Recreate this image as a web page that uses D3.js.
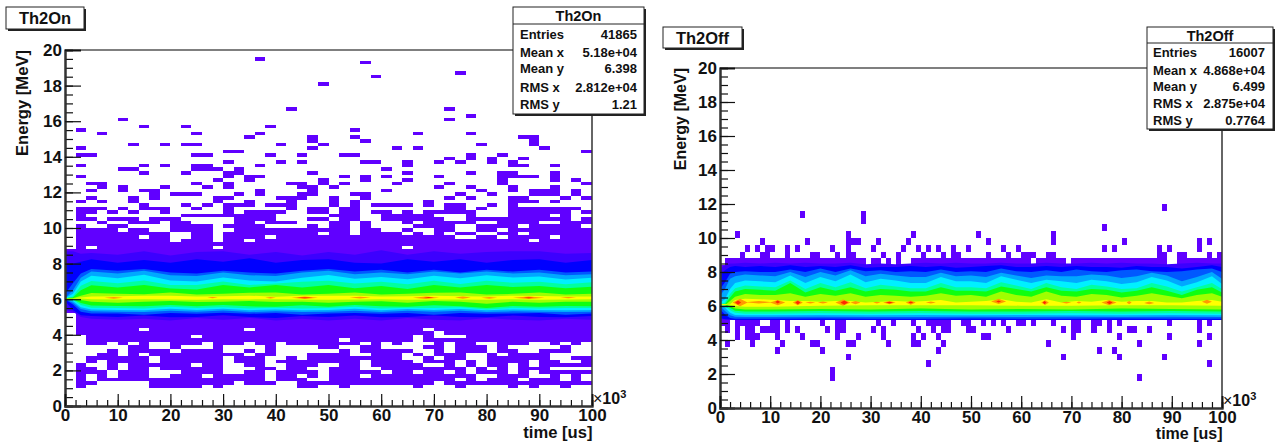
<!DOCTYPE html>
<html>
<head>
<meta charset="utf-8">
<script src="https://cdnjs.cloudflare.com/ajax/libs/d3/7.8.5/d3.min.js"></script>
<style>
body { margin: 0; background: #fff; }
text { font-family: "Liberation Sans", Arial, sans-serif; font-weight: bold; fill: #111; }
</style>
</head>
<body>
<div id="main"></div>
<script>
// ---- Th2On: 50 time bins (2 each), 100 energy bins (0.2 MeV). row 0 is the top one (19.8-20)
const onSparseRows = [
  [],[],[18],[28],[],[],[37],[29],[],[24],[],[],[],[],[],[],
  [21,36],[],[38],[5,36],[],[7,11,19],[1,27],[3,12,18,33,38],
  [17,23,27,43,44],[23,28,44],[6,9,11,12,20,24,39,44],[1,23,31,33,45],[15,16,49],
  [1,2,12,13,19,22,26,27,38,41],[36,38,40,43],[15,20,22,28,29,32,35,37,40,42],
  [1,7,9,12,13,18,32,42,43,46],[5,6,12,13,14,16,30],[7,11,15,16,23,32,38,41,42,46],
  [1,15,17,18,26,28,30,35,41,42,43,44,46],[14,17,24,28,32,41,46,48],
  [2,3,12,15,21,22,24,26,31,36,41,49],[3,5,9,13,15,22,23,25,35,38,42,46],
  [2,5,7,8,18,23,30,39,42,44,45,46,48],[8,10,11,12,16,18,22,23,27,28,37,40,44,45,46,48],
  [2,6,8,14,15,20,21,22,25,28,36,38,42,43,47,49],[1,3,6,14,17,21,25,27,34,42,43,44,46],
  [7,11,13,15,16,17,19,20,21,25,27,29,30,31,32,34,36,37,40,42],
  [1,2,3,5,7,8,9,12,15,21,23,24,26,27,36,37,39,42,43,44,45,46,47,48],
  [1,2,4,6,9,15,17,18,19,20,23,24,26,27,29,30,32,34,35,36,37,38,42,43,44,45,46,47,49],
  [1,11,12,13,14,15,16,17,18,19,25,26,27,30,31,32,33,34,38,42,43,44,45,47],
  [1,2,4,5,6,8,9,10,16,17,18,19,23,24,26,27,30,31,32,33,34,35,38,39,40,41,42,43,44,45,46,47,49]
];
// rows 48..94 are mostly full, only the empty bins are listed
const onHoleRows = [
  [0,1,2,4,5,9,12,13,14,15,18,22,23,24,27,29,30,31,33,39,40,45,46],
  [0,2,3,6,7,8,9,14,19,20,21,22,24,27,29,30,31,32,37,38,43,49],
  [0,5,8,9,14,15,27,30,31,33,34,37,38,41],
  [0,10,11,14,24,27,32,34,36,39,40,43],
  [0,7,10,11,14,19,37,38,41,46],
  [0,10,14,17,44],[0],[0,2,14,32],
  [],[],[],[],[],[],[],[],[],[],[],[],[],[],[],[],[],[],
  [0],[0],[0],[0],
  [0,7,17,34],[0,35],[0,1,12,33,35,36,37],[0,1,26,33],
  [0,1,4,6,8,9,13,17,20,28,30,32,33,34,36,39,40,44,45,47,49],
  [0,1,2,3,4,5,8,9,11,12,13,15,16,17,18,20,21,22,23,26,27,30,31,32,33,36,40,42,43,44,45,46,48,49],
  [0,1,2,3,5,10,15,16,18,20,21,22,23,24,25,27,33,34,36,40,43,44,48,49],
  [0,1,2,5,7,17,20,21,22,27,28,32,34,38,39,41,46,47,48,49],
  [0,1,8,15,19,20,22,32,33,35,38,39,46,47],
  [0,1,3,8,15,19,28,33,37,39,44,47,48],
  [0,2,3,5,12,15,16,19,20,24,25,28,34,35,37,39,42,44],
  [0,3,5,8,15,16,17,20,23,24,28,29,38,40,42,46,47,48,49],
  [0,4,8,9,10,15,16,19,24,30,33,36,38,42,44],
  [0,2,4,8,9,13,19,22,24,28,39,40,44,45,47,49],
  [0,2,19,23,24,37,39,43,47,49],
  [0,3,4,5,6,7,16,20,21,35],
  [0,2,3,4,5,6,7,13,15,16,17,18,19,20,21,24,25,27,28,29,30,31,32,34,35,36,38,39,40,41,43,45,46,48,49]
];

// contour edges of the bright band, MeV at each time
const onT       = [0,1.5,3,5,10,15,20,25,30,35,40,45,50,55,60,65,70,75,80,85,90,95,100];
const onIndigoU = [8.7,8.7,8.55,8.6,8.5,8.7,8.45,8.65,8.7,8.5,8.65,8.45,8.65,8.5,8.75,8.5,8.7,8.55,8.65,8.7,8.7,8.55,8.6];
const onIndigoL = [5.4,5.3,5.0,4.9,4.85,4.9,4.8,4.95,4.85,4.95,4.8,4.9,4.8,4.9,4.8,4.95,4.85,4.8,4.95,4.85,4.8,4.9,4.85];
const onBlueU   = [7.9,8.0,8.1,8.25,8.05,8.2,8.05,8.25,8.1,8.3,8.05,8.2,8.25,8.05,8.0,8.25,8.1,8.25,8.05,8.2,8.25,8.05,8.2];
const onBlueL   = [5.9,5.4,5.1,5.05,5.0,5.08,4.98,5.0,5.1,5.0,4.95,5.05,5.0,5.08,4.98,5.0,5.08,5.0,4.98,5.08,5.0,4.98,5.05];
const onMidU    = [6.3,6.9,7.45,7.7,7.6,7.7,7.5,7.45,7.6,7.5,7.45,7.6,7.7,7.55,7.65,7.5,7.65,7.5,7.65,7.55,7.65,7.5,7.55];
const onMidL    = [6.0,5.7,5.3,5.2,5.2,5.13,5.22,5.18,5.24,5.18,5.22,5.13,5.2,5.22,5.18,5.22,5.13,5.22,5.18,5.2,5.22,5.13,5.2];
const onLightU  = [6.05,6.5,7.2,7.55,7.45,7.6,7.35,7.3,7.5,7.35,7.3,7.5,7.6,7.4,7.5,7.4,7.55,7.45,7.55,7.45,7.5,7.35,7.4];
const onLightL  = [6.0,5.8,5.45,5.33,5.3,5.28,5.35,5.3,5.37,5.28,5.32,5.28,5.3,5.35,5.28,5.35,5.3,5.35,5.28,5.32,5.3,5.28,5.3];
const onCyanU   = [6.05,6.3,7.0,7.32,7.18,7.38,7.05,7.0,7.22,7.05,7.0,7.2,7.36,7.15,7.25,7.12,7.32,7.18,7.34,7.22,7.28,7.1,7.2];
const onCyanL   = [6.0,5.9,5.55,5.42,5.4,5.38,5.47,5.4,5.47,5.38,5.42,5.38,5.4,5.47,5.38,5.45,5.4,5.45,5.38,5.42,5.4,5.38,5.4];
const onTealU   = [6.05,6.15,6.75,7.02,6.9,7.05,6.8,6.8,7.0,6.8,6.88,6.98,7.04,6.88,6.98,6.84,7.04,6.85,7.04,6.92,6.98,6.84,6.95];
const onTealL   = [6.0,5.95,5.68,5.52,5.5,5.48,5.57,5.5,5.55,5.48,5.52,5.48,5.5,5.57,5.48,5.52,5.5,5.55,5.42,5.52,5.48,5.5,5.5];
const onGreenU  = [6.05,6.1,6.5,6.78,6.66,6.8,6.6,6.55,6.8,6.66,6.8,6.66,6.8,6.62,6.74,6.58,6.8,6.66,6.8,6.68,6.74,6.62,6.7];
const onGreenL  = [6.0,6.0,5.78,5.65,5.62,5.6,5.68,5.6,5.68,5.6,5.58,5.66,5.58,5.68,5.6,5.58,5.66,5.6,5.5,5.62,5.58,5.62,5.6];
const onLimeU   = [6.05,6.05,6.2,6.35,6.3,6.28,6.38,6.27,6.3,6.36,6.38,6.27,6.3,6.38,6.27,6.3,6.36,6.38,6.27,6.3,6.38,6.27,6.3];
const onLimeL   = [6.0,6.0,5.95,5.85,5.8,5.86,5.9,5.84,5.85,5.9,5.84,5.86,5.8,5.86,5.88,5.8,5.9,5.85,5.74,5.86,5.8,5.86,5.85];
const onYellowU = [6.05,6.05,6.1,6.15,6.17,6.2,6.19,6.15,6.17,6.2,6.14,6.2,6.2,6.2,6.15,6.16,6.2,6.16,6.15,6.2,6.18,6.15,6.15];
const onYellowL = [6.05,6.05,6.04,6.0,5.98,6.0,5.98,5.97,6.0,5.99,6.0,5.98,5.97,5.99,6.0,5.97,5.98,5.99,5.97,6.0,5.97,5.99,6.0];
// hot spots: start, end, energy, half height
const onOrange = [[7.5,11,6.08,.05],[27,29,6.09,.04],[38,40,6.08,.04],[43,48,6.08,.07],[54,58,6.09,.05],[66,71,6.08,.07],[74,77,6.09,.06],[79,82,6.08,.05],[85,91,6.08,.07],[94,97,6.09,.04]];
const onRed    = [[44,47,6.08,.03],[68,70,6.1,.03],[87,89,6.08,.03]];

// ---- Th2Off: 100 time bins (1 each), 50 energy bins (0.4 MeV). rows 13-21 hold the band
const offCells = {
  4: [22,83], 5: [22], 6: [41,97], 7: [25,68,79,88], 8: [11,20,43,75,78],
  9: [1,6,12,18,19,25,26,33,38,39,44,65,83,95],
  10: [3,5,6,7,11,16,23,27,32,38,40,43,52,53,70,79,89,97],
  11: [1,3,5,6,8,9,10,11,13,15,21,23,24,30,32,39,42,44,45,49,50,57,68,70,71,74,77,81,82,85,95],
  12: [0,1,3,4,5,6,7,10,11,13,20,23,24,31,34,38,41,42,43,44,45,48,49,52,54,56,59,60,62,66,70,71,74,75,77,79,89,95,97],
  22: [4,8,9,13,18,19,23,25,26,32,35,40,44,46,47,53,57,60,61,62,65,66,87,88,91,92,97,99],
  23: [5,7,9,10,13,15,22,25,30,36,39,41,43,46,49,56,59,76,78,87,89,95],
  24: [8,17,25,26,27,31,37,53,66,80,95,97],
  25: [3,25,38,51,66], 26: [76], 27: [28], 28: [16,28], 29: [88]
};
const offTopHoles = [0,29,32,34,36,37,62,69,89,90];

const offT       = [0,1,2,3,5,8,11,14,17,20,23,26,29,32,35,38,41,44,47,50,53,56,59,62,65,68,71,74,77,80,83,86,89,92,95,98,100];
const offIndigoU = [8.2,8.4,8.5,8.5,8.55,8.5,8.55,8.5,8.55,8.5,8.5,8.55,8.45,8.5,8.45,8.5,8.55,8.5,8.55,8.5,8.5,8.55,8.5,8.5,8.55,8.5,8.5,8.55,8.5,8.55,8.5,8.5,8.45,8.5,8.55,8.5,8.5];
const offBlueU   = [7.8,8.1,8.3,8.35,8.3,8.35,8.3,8.4,8.3,8.35,8.3,8.4,8.25,8.3,8.3,8.35,8.3,8.35,8.25,8.3,8.35,8.4,8.3,8.3,8.35,8.3,8.35,8.3,8.3,8.25,8.35,8.3,8.3,8.2,8.3,8.4,8.3];
const offMidU    = [7.0,7.4,7.9,8.0,8.05,8.0,8.0,8.15,8.0,8.2,8.0,8.2,8.05,8.1,8.0,8.05,8.0,8.15,8.0,8.05,8.0,8.2,8.05,8.0,8.1,8.0,8.15,8.05,8.0,8.1,8.15,8.05,8.0,8.05,8.15,8.2,8.0];
const offLightU  = [6.6,7.0,7.6,7.75,7.85,7.8,7.75,8.0,7.7,8.0,7.8,8.1,7.75,7.9,7.8,7.7,7.7,7.95,7.75,7.8,7.7,7.95,7.8,7.65,7.8,7.75,7.75,7.85,7.8,7.65,7.75,7.95,7.8,7.45,7.7,8.0,7.6];
const offCyanU   = [6.2,6.4,7.0,7.35,7.5,7.45,7.4,7.8,7.35,7.7,7.45,7.85,7.4,7.6,7.5,7.35,7.35,7.7,7.45,7.45,7.35,7.75,7.55,7.35,7.55,7.45,7.35,7.55,7.45,7.3,7.4,7.7,7.5,7.15,7.4,7.75,7.3];
const offTealU   = [6.1,6.2,6.7,7.05,7.2,7.15,7.1,7.5,7.0,7.35,7.1,7.4,7.05,7.25,7.15,7.05,7.05,7.35,7.1,7.1,7.05,7.4,7.2,7.0,7.35,7.1,7.0,7.25,7.15,7.0,7.05,7.35,7.15,6.85,7.1,7.35,7.0];
const offGreenU  = [6.05,6.1,6.5,6.85,7.0,6.95,6.9,7.35,6.8,7.1,6.9,7.1,6.85,7.0,6.95,6.85,6.85,7.1,6.9,6.9,6.85,7.15,7.0,6.85,7.1,6.9,6.85,7.0,6.95,6.8,6.9,7.1,6.9,6.65,6.95,7.1,6.8];
const offLimeU   = [6.05,6.05,6.3,6.55,6.7,6.65,6.65,6.75,6.55,6.7,6.6,6.75,6.55,6.65,6.6,6.55,6.6,6.75,6.6,6.65,6.55,6.85,6.65,6.55,6.85,6.6,6.55,6.7,6.65,6.5,6.6,6.75,6.6,6.45,6.65,6.75,6.55];
const offYellowU = [6.05,6.05,6.1,6.35,6.42,6.4,6.35,6.3,6.3,6.25,6.3,6.3,6.2,6.25,6.3,6.25,6.3,6.35,6.2,6.25,6.3,6.4,6.25,6.2,6.4,6.2,6.3,6.25,6.35,6.25,6.3,6.3,6.2,6.2,6.3,6.35,6.25];
// the low side is flat, a few samples do
const offLowT     = [0,1,2,3,5,10,20,30,40,50,60,70,80,90,100];
const offIndigoL  = [5.2,5.2,5.2,5.17,5.17,5.17,5.17,5.17,5.17,5.17,5.17,5.17,5.17,5.17,5.17];
const offBlueL    = [5.3,5.22,5.2,5.18,5.18,5.18,5.18,5.18,5.18,5.18,5.18,5.18,5.18,5.18,5.18];
const offMidL     = [5.8,5.5,5.3,5.25,5.25,5.25,5.27,5.25,5.25,5.27,5.25,5.25,5.27,5.25,5.25];
const offLightL   = [6.0,5.7,5.45,5.37,5.35,5.35,5.37,5.35,5.35,5.37,5.35,5.37,5.35,5.37,5.35];
const offCyanL    = [6.1,5.9,5.6,5.47,5.45,5.45,5.47,5.45,5.47,5.45,5.47,5.45,5.45,5.47,5.45];
const offTealL    = [6.1,6.0,5.75,5.6,5.55,5.55,5.57,5.55,5.57,5.55,5.55,5.57,5.55,5.57,5.55];
const offGreenL   = [6.1,6.05,5.9,5.72,5.68,5.68,5.7,5.68,5.7,5.68,5.68,5.7,5.68,5.7,5.68];
const offLimeL    = [6.1,6.1,6.0,5.85,5.8,5.8,5.83,5.8,5.85,5.8,5.83,5.8,5.85,5.83,5.8];
const offYellowL  = [6.1,6.1,6.08,6.0,5.95,5.95,6.02,6.05,6.05,6.05,6.02,6.02,6.05,6.05,6.02];
const offOrange = [[2.5,5.5,6.2,.22],[5,10.5,6.22,.08],[10,13,6.2,.16],[14.5,16.5,6.2,.15],[17,19,6.2,.05],[19.5,21.5,6.2,.06],[23,26,6.2,.18],[26,28,6.2,.1],[30.5,32,6.2,.05],[32.5,35,6.2,.1],[37,39,6.2,.12],[41,43,6.2,.06],[54,57,6.27,.15],[64,65.5,6.2,.14],[68,70,6.2,.05],[71,72,6.2,.06],[76,79,6.2,.15],[81,82,6.2,.1],[84.5,86.5,6.18,.08],[96,98,6.25,.12]];
const offRed    = [[3,4.2,6.2,.13],[11,12,6.24,.09],[15,16,6.2,.11],[24,25.5,6.2,.13],[33,34.5,6.2,.05],[37.5,38.5,6.2,.06],[55,56,6.27,.06],[64.3,65,6.2,.1],[77,78.2,6.2,.1]];

const onStats  = [["Entries","41865"],["Mean x","5.18e+04"],["Mean y","6.398"],["RMS x","2.812e+04"],["RMS y","1.21"]];
const offStats = [["Entries","16007"],["Mean x","4.868e+04"],["Mean y","6.499"],["RMS x","2.875e+04"],["RMS y","0.7764"]];

const xMajor = d3.range(0, 101, 10), xMinor = d3.range(0, 101, 2);
const yMajor = d3.range(0, 21, 2), yMinor = d3.range(0, 20.1, 0.5);

const purple = "#6000ff";
const levelColors = ["#3c00ff", "#0000ff", "#0058ff", "#00a8ff", "#00f0ff", "#00ffa0", "#10ff10", "#a0ff00", "#ffff00"];

const svg = d3.select("#main").append("svg").attr("width", 1276).attr("height", 445);

function box(g, x, y, w, h) {
  g.append("rect").attr("x", x + 2).attr("y", y + 2).attr("width", w).attr("height", h).attr("fill", "#222");
  g.append("rect").attr("x", x).attr("y", y).attr("width", w).attr("height", h)
    .attr("fill", "white").attr("stroke", "#222").attr("stroke-width", 1);
}

function drawPanel(p) {
  const g = svg.append("g");
  const x = d3.scaleLinear().domain([0, 100]).range([p.left, p.right]);
  const y = d3.scaleLinear().domain([0, 20]).range([p.bottom, p.top]);

  // filled bins
  g.append("g").attr("shape-rendering", "crispEdges").selectAll("rect")
    .data(p.cells).join("rect")
    .attr("x", d => x(d.t))
    .attr("y", d => y(d.e + p.binE))
    .attr("width", d => x(d.t + p.binT) - x(d.t))
    .attr("height", d => y(d.e) - y(d.e + p.binE))
    .attr("fill", purple);

  // nested contour levels
  const line = d3.line().x(d => x(d[0])).y(d => y(d[1]));
  p.levels.forEach((lev, i) => {
    const pts = lev.upperT.map((t, k) => [t, lev.upper[k]])
      .concat(lev.lowerT.map((t, k) => [t, lev.lower[k]]).reverse());
    g.append("path").attr("d", line(pts) + "Z").attr("fill", levelColors[i]);
  });

  // hot spots
  const spot = (list, color) => list.forEach(s => {
    const mid = (s[0] + s[1]) / 2;
    g.append("path").attr("fill", color)
      .attr("d", line([[s[0], s[2]], [mid, s[2] + s[3]], [s[1], s[2]], [mid, s[2] - s[3]]]) + "Z");
  });
  spot(p.orange, "#ff9a00");
  spot(p.red, "#ff2800");

  // frame
  g.append("line").attr("x1", x(0)).attr("x2", x(100)).attr("y1", y(20)).attr("y2", y(20))
    .attr("stroke", "#555").attr("stroke-width", 1.5);
  g.append("line").attr("x1", x(100)).attr("x2", x(100)).attr("y1", y(20)).attr("y2", y(0))
    .attr("stroke", "#333").attr("stroke-width", 1.5);

  // axes, ticks point inwards like ROOT
  const yMin = g.append("g").attr("transform", `translate(${p.left},0)`)
    .call(d3.axisLeft(y).tickValues(yMinor).tickSize(-p.yMinorLen).tickFormat(""));
  const yMaj = g.append("g").attr("transform", `translate(${p.left},0)`)
    .call(d3.axisLeft(y).tickValues(yMajor).tickSize(-p.yMajorLen).tickPadding(3).tickFormat(d3.format("d")));
  const xMin = g.append("g").attr("transform", `translate(0,${p.bottom})`)
    .call(d3.axisBottom(x).tickValues(xMinor).tickSize(-p.xMinorLen).tickFormat(""));
  const xMaj = g.append("g").attr("transform", `translate(0,${p.bottom})`)
    .call(d3.axisBottom(x).tickValues(xMajor).tickSize(-p.xMajorLen).tickPadding(4).tickFormat(d3.format("d")));
  [yMin, yMaj, xMin, xMaj].forEach(a => {
    a.selectAll("line").attr("stroke", "#111").attr("stroke-width", 1.2);
    a.select(".domain").attr("stroke", "#333").attr("stroke-width", 2);
    a.selectAll("text").style("font-size", "17px").style("font-family", '"Liberation Sans"').style("font-weight", "bold").attr("fill", "#111");
  });
  xMaj.selectAll("text").attr("y", 0).attr("dy", p.xLabelDy + "px");

  // axis titles
  g.append("text").attr("transform", `translate(${p.yTitleX},${p.top}) rotate(-90)`)
    .attr("text-anchor", "end").style("font-size", p.titleSize + "px").text("Energy [MeV]");
  g.append("text").attr("x", p.right + 0.5).attr("y", p.xTitleY).attr("text-anchor", "end")
    .style("font-size", p.titleSize + "px").text("time [us]");

  // x10^3
  const mult = g.append("text").attr("x", p.right + 1).attr("y", p.bottom - 2).style("font-size", "16px");
  mult.append("tspan").style("font-weight", "normal").text("×");
  mult.append("tspan").text("10");
  mult.append("tspan").attr("dy", -6).style("font-size", "11px").text("3");

  // title box
  box(g, p.nameBox[0], p.nameBox[1], p.nameBox[2], p.nameBox[3]);
  g.append("text").attr("x", p.nameBox[0] + p.nameBox[2] / 2).attr("y", p.nameBox[1] + 17)
    .attr("text-anchor", "middle").style("font-size", "16.5px").text(p.name);

  // stats box
  const s = p.statBox;
  box(g, s.x, s.y, s.w, s.h);
  g.append("line").attr("x1", s.x).attr("x2", s.x + s.w).attr("y1", s.sep).attr("y2", s.sep).attr("stroke", "#222");
  g.append("text").attr("x", s.x + s.w / 2).attr("y", s.titleY).attr("text-anchor", "middle")
    .style("font-size", "14.5px").text(p.name);
  p.stats.forEach((row, i) => {
    g.append("text").attr("x", s.textL).attr("y", s.rows[i]).style("font-size", "13px").text(row[0]);
    g.append("text").attr("x", s.textR).attr("y", s.rows[i]).attr("text-anchor", "end").style("font-size", "13px").text(row[1]);
  });
}

// build bin lists
const onCells = [];
onSparseRows.forEach((bins, r) => bins.forEach(i => onCells.push({ t: i * 2, e: 19.8 - r * 0.2 })));
onHoleRows.forEach((holes, k) => d3.range(50).filter(i => !holes.includes(i))
  .forEach(i => onCells.push({ t: i * 2, e: 19.8 - (k + 48) * 0.2 })));

const offBins = [];
Object.keys(offCells).forEach(k => offCells[k].forEach(i => offBins.push({ t: i, e: k * 0.4 })));
d3.range(13, 22).forEach(k => d3.range(100).forEach(i => {
  if (k == 21 && offTopHoles.includes(i)) return;
  offBins.push({ t: i, e: k * 0.4 });
}));

const onLevel = (u, l) => ({ upperT: onT, upper: u, lowerT: onT, lower: l });
const offLevel = (u, l) => ({ upperT: offT, upper: u, lowerT: offLowT, lower: l });

drawPanel({
  name: "Th2On", left: 65, right: 592, top: 50, bottom: 406,
  cells: onCells, binT: 2, binE: 0.2,
  levels: [onLevel(onIndigoU, onIndigoL), onLevel(onBlueU, onBlueL), onLevel(onMidU, onMidL), onLevel(onLightU, onLightL),
    onLevel(onCyanU, onCyanL), onLevel(onTealU, onTealL), onLevel(onGreenU, onGreenL), onLevel(onLimeU, onLimeL), onLevel(onYellowU, onYellowL)],
  orange: onOrange, red: onRed, stats: onStats,
  yMajorLen: 16, yMinorLen: 8, xMajorLen: 12, xMinorLen: 6,
  xLabelDy: 15, yTitleX: 28, xTitleY: 438, titleSize: 16.6,
  nameBox: [6, 7, 78, 22],
  statBox: { x: 513, y: 7, w: 131, h: 107, sep: 24, titleY: 21, textL: 520, textR: 637, rows: [39, 57, 73, 92, 109] }
});

drawPanel({
  name: "Th2Off", left: 720, right: 1222, top: 68, bottom: 408,
  cells: offBins, binT: 1, binE: 0.4,
  levels: [offLevel(offIndigoU, offIndigoL), offLevel(offBlueU, offBlueL), offLevel(offMidU, offMidL), offLevel(offLightU, offLightL),
    offLevel(offCyanU, offCyanL), offLevel(offTealU, offTealL), offLevel(offGreenU, offGreenL), offLevel(offLimeU, offLimeL), offLevel(offYellowU, offYellowL)],
  orange: offOrange, red: offRed, stats: offStats,
  yMajorLen: 15, yMinorLen: 8, xMajorLen: 12, xMinorLen: 6,
  xLabelDy: 15, yTitleX: 686, xTitleY: 439, titleSize: 16,
  nameBox: [663, 27, 79, 21],
  statBox: { x: 1147, y: 27, w: 126, h: 102, sep: 43, titleY: 41, textL: 1153, textR: 1265, rows: [57, 75, 91, 108, 125] }
});
</script>
</body>
</html>
